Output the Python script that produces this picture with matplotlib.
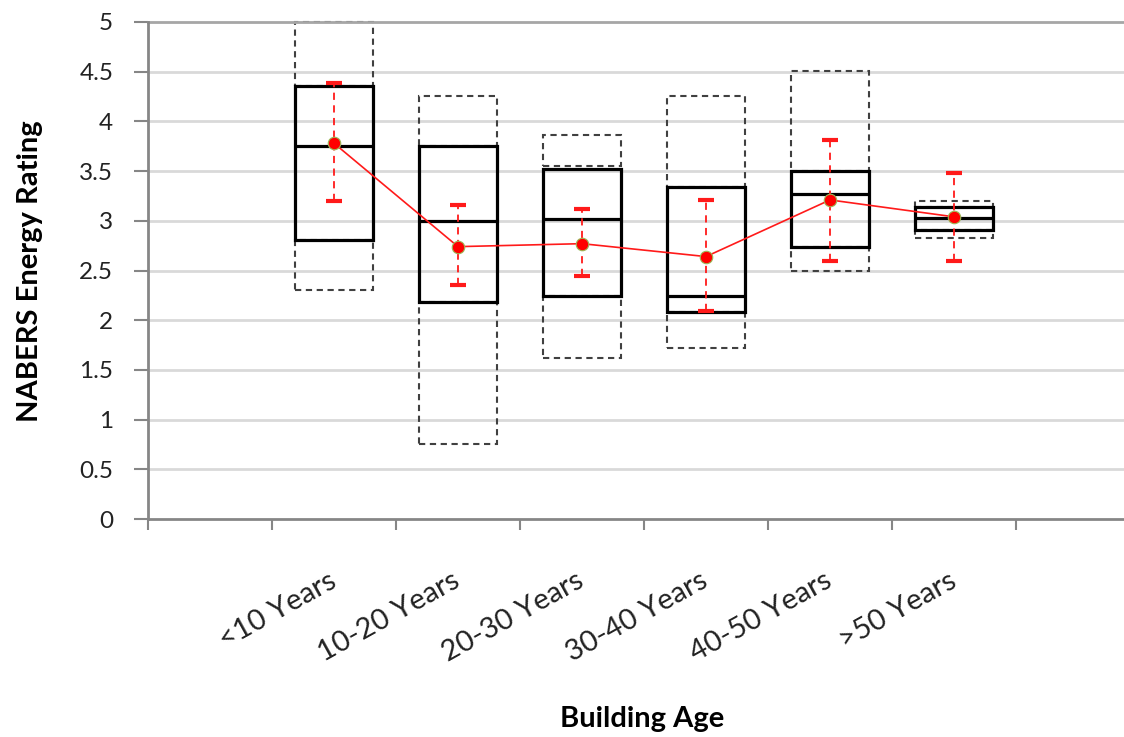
import matplotlib
matplotlib.use("Agg")
import matplotlib.pyplot as plt
from matplotlib.patches import Rectangle

plt.rcParams['font.family'] = ['Lato', 'DejaVu Sans']

categories = ["<10 Years", "10-20 Years", "20-30 Years", "30-40 Years", "40-50 Years", ">50 Years"]
whisker_min = [2.30, 0.75, 1.62, 1.72, 2.49, 2.83]
whisker_max = [5.00, 4.26, 3.86, 4.26, 4.51, 3.20]
upper_dash_base = [4.36, 3.75, 3.55, 3.34, 3.50, 3.14]
q1 = [2.81, 2.18, 2.24, 2.08, 2.74, 2.91]
median = [3.75, 3.00, 3.02, 2.24, 3.27, 3.03]
q3 = [4.36, 3.75, 3.52, 3.34, 3.50, 3.14]
mean = [3.78, 2.74, 2.77, 2.64, 3.21, 3.04]
err_hi = [4.39, 3.16, 3.12, 3.21, 3.81, 3.48]
err_lo = [3.20, 2.35, 2.44, 2.09, 2.60, 2.60]
yticks = [0, 0.5, 1, 1.5, 2, 2.5, 3, 3.5, 4, 4.5, 5]
ytick_labels = ["0", "0.5", "1", "1.5", "2", "2.5", "3", "3.5", "4", "4.5", "5"]

W, H = 1124, 737
fig = plt.figure(figsize=(W / 100, H / 100), dpi=100)
ax = fig.add_axes([148 / W, 1 - 519 / H, 992 / W, 497 / H])

positions = [i + 1.5 for i in range(len(categories))]
bw = 0.63

ax.set_xlim(0, 8)
ax.set_ylim(0, 5)

# grid
for y in yticks[1:]:
    if y == 5:
        ax.axhline(y, color='#a6a6a6', lw=2, zorder=2.5, clip_on=False)
    else:
        ax.axhline(y, color='#d9d9d9', lw=2, zorder=0)

dash_col = '#404040'
for i, x in enumerate(positions):
    left = x - bw / 2
    ax.add_patch(Rectangle((left, whisker_min[i]), bw, q1[i] - whisker_min[i], fill=False,
                           ec=dash_col, lw=1.5, ls=(0, (3, 2.2)), zorder=2, clip_on=False))
    ax.add_patch(Rectangle((left, upper_dash_base[i]), bw, whisker_max[i] - upper_dash_base[i], fill=False,
                           ec=dash_col, lw=1.5, ls=(0, (3, 2.2)), zorder=2, clip_on=False))
    ax.add_patch(Rectangle((left, q1[i]), bw, q3[i] - q1[i], fill=False, ec='black', lw=2.3, zorder=3))
    ax.plot([left, left + bw], [median[i], median[i]], color='black', lw=2.3, zorder=3,
            solid_capstyle='butt')

yerr = [[m - l for m, l in zip(mean, err_lo)], [h - m for m, h in zip(mean, err_hi)]]
eb = ax.errorbar(positions, mean, yerr=yerr, fmt='none', ecolor='#ff1a1a', elinewidth=1.3,
                 capsize=5.5, capthick=3, zorder=4)
for lc in eb[2]:
    lc.set_linestyle((0, (4, 3)))

ax.plot(positions, mean, color='#ff1a1a', lw=1.2, zorder=5)
ax.plot(positions, mean, ls='none', marker='o', ms=9, mfc='#ff0000', mec='#9bbb59', mew=0.8, zorder=6)

for s in ['top', 'right']:
    ax.spines[s].set_visible(False)
for s in ['left', 'bottom']:
    ax.spines[s].set_color('#868686')
    ax.spines[s].set_linewidth(2)

ax.set_yticks(yticks)
ax.set_yticklabels(ytick_labels, fontsize=17.5, color='#222222')
ax.tick_params(axis='y', length=10, width=1.5, color='#868686', pad=15)

ax.set_xticks(range(0, 9))
ax.set_xticklabels([])
ax.tick_params(axis='x', which='major', length=8, width=1.5, color='#868686')
ax.set_xticks(positions, minor=True)
ax.set_xticklabels(categories, minor=True, fontsize=21, rotation=29,
                   rotation_mode='anchor', ha='right', va='center', color='#222222')
ax.tick_params(axis='x', which='minor', length=0, pad=43)

fig.text(30 / W, 1 - 271 / H, "NABERS Energy Rating", rotation=90,
        ha='center', va='center', fontsize=21, fontweight='bold')
fig.text(642 / W, 1 - 719 / H, "Building Age", ha='center', va='center', fontsize=21, fontweight='bold')

fig.savefig("out.png", dpi=100)
